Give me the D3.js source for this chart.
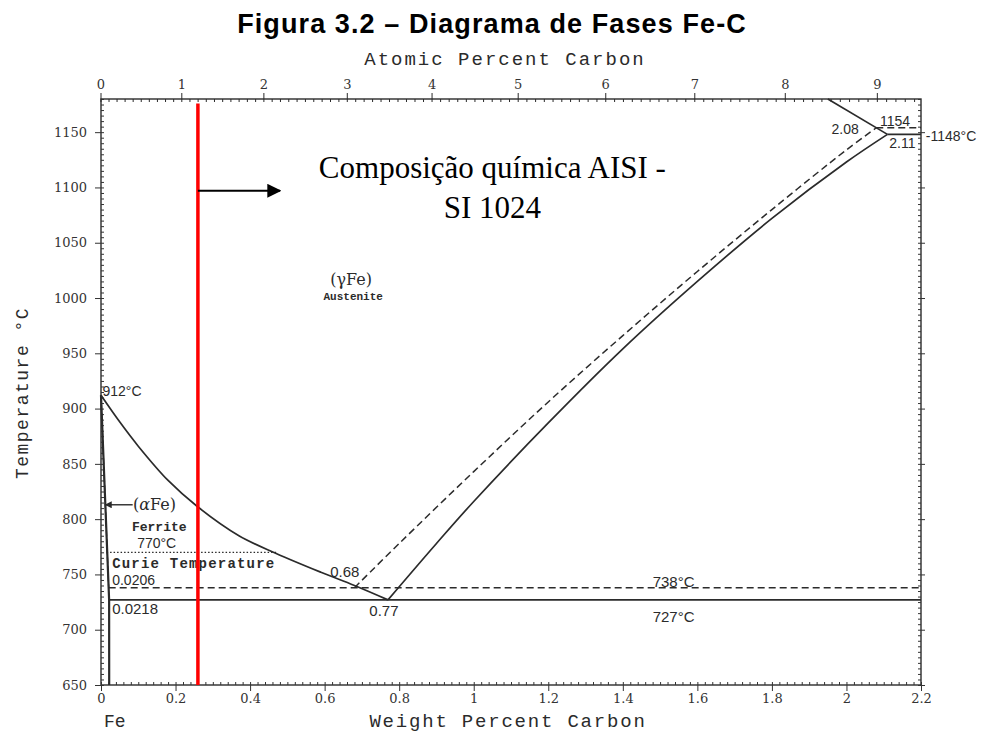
<!DOCTYPE html>
<html lang="pt">
<head>
<meta charset="utf-8">
<title>Diagrama de Fases Fe-C</title>
<script src="https://d3js.org/d3.v7.min.js"></script>
<style>
body { margin: 0; background: #fff; }
.tick text { font-family: "DejaVu Serif", serif; font-size: 13px; fill: #333; }
.tick line { stroke: #333; }
.lbl { font-family: "Liberation Sans", Arial, sans-serif; font-size: 14px; fill: #2b2b2b; }
.mono { font-family: "Liberation Mono", "DejaVu Sans Mono", monospace; fill: #2b2b2b; }
</style>
</head>
<body>
<script>
// axis ticks
var wtTicks = [0, 0.2, 0.4, 0.6, 0.8, 1, 1.2, 1.4, 1.6, 1.8, 2, 2.2];
var atTicks = [0, 1, 2, 3, 4, 5, 6, 7, 8, 9];
var tempTicks = [650, 700, 750, 800, 850, 900, 950, 1000, 1050, 1100, 1150];

// phase boundaries (wt% C, temperature °C)
var a3Wt = [0, 0.05, 0.1, 0.18, 0.26, 0.37, 0.47, 0.59, 0.68, 0.77];
var a3Temp = [912, 888, 866, 835, 811, 785, 769, 752, 740, 727];
var acmWt = [0.77, 0.9, 1.0, 1.2, 1.4, 1.6, 1.8, 2.0, 2.11];
var acmTemp = [727, 778, 816, 887, 954, 1015, 1072, 1123, 1148];
var acmGrWt = [0.68, 0.8, 1.0, 1.2, 1.4, 1.6, 1.8, 2.0, 2.08];
var acmGrTemp = [738, 778, 843, 906, 966, 1024, 1080, 1134, 1154];
var solidusWt = [1.95, 2.11];
var solidusTemp = [1180, 1148];
var alphaWt = [0, 0.0218, 0.022];
var alphaTemp = [912, 727, 650];
var alphaGrWt = [0, 0.0206];
var alphaGrTemp = [912, 738];

// horizontal isotherms: [wt start, wt end, temperature]
var solidIso = [[0.0218, 2.2, 727], [2.11, 2.2, 1148]];
var dashIso = [[0.0206, 2.2, 738], [2.08, 2.2, 1154]];
var curieIso = [0.015, 0.47, 770];

// steel composition marker
var steelWt = 0.26;
var steelTemp = [650, 1176];
var arrowWt = [0.26, 0.48];
var arrowTemp = 1097;

var labels = [
  {t: "912°C", wt: 0.004, temp: 916, cls: "lbl", size: 14, anchor: "start"},
  {t: "Ferrite", wt: 0.083, temp: 793, cls: "mono", size: 13, anchor: "start", bold: true},
  {t: "770°C", wt: 0.097, temp: 778, cls: "lbl", size: 14, anchor: "start"},
  {t: "Curie Temperature", wt: 0.03, temp: 760, cls: "mono", size: 14, anchor: "start", bold: true, ls: 1.2},
  {t: "0.0206", wt: 0.03, temp: 744.5, cls: "lbl", size: 14, anchor: "start"},
  {t: "0.0218", wt: 0.03, temp: 719, cls: "lbl", size: 15, anchor: "start"},
  {t: "0.68", wt: 0.615, temp: 752, cls: "lbl", size: 15, anchor: "start"},
  {t: "0.77", wt: 0.72, temp: 717, cls: "lbl", size: 15, anchor: "start"},
  {t: "738°C", wt: 1.48, temp: 743, cls: "lbl", size: 15, anchor: "start"},
  {t: "727°C", wt: 1.48, temp: 712, cls: "lbl", size: 15, anchor: "start"},
  {t: "Austenite", wt: 0.597, temp: 1002, cls: "mono", size: 11, anchor: "start", bold: true},
  {t: "1154", wt: 2.09, temp: 1160, cls: "lbl", size: 14, anchor: "start"},
  {t: "2.08", wt: 1.96, temp: 1153, cls: "lbl", size: 14, anchor: "start"},
  {t: "2.11", wt: 2.115, temp: 1140, cls: "lbl", size: 14, anchor: "start"},
  {t: "-1148°C", wt: 2.213, temp: 1146, cls: "lbl", size: 14, anchor: "start"}
];

var W = 987, H = 736;
var svg = d3.select("body").append("svg")
    .attr("width", W)
    .attr("height", H)
    .style("font-family", "Liberation Sans, Arial, sans-serif");

var x = d3.scaleLinear().domain([0, 2.2]).range([101, 921]);
var y = d3.scaleLinear().domain([650, 1180]).range([685, 99]);

// atomic percent -> weight percent carbon
function atToWt(a) {
    return 100 * a * 12.011 / (a * 12.011 + (100 - a) * 55.845);
}

var ink = "#2b2b2b";

// frame
svg.append("rect")
    .attr("x", x(0)).attr("y", y(1180))
    .attr("width", x(2.2) - x(0)).attr("height", y(650) - y(1180))
    .attr("fill", "none").attr("stroke", ink).attr("stroke-width", 1.4);

// bottom axis
var gx = svg.append("g").attr("transform", "translate(0," + y(650) + ")");
gx.call(d3.axisBottom(x).tickValues(wtTicks).tickFormat(d3.format("~g")).tickSize(6).tickPadding(3));
gx.select(".domain").remove();
var gxm = svg.append("g").attr("transform", "translate(0," + y(650) + ")");
gxm.call(d3.axisBottom(x).tickValues(d3.range(0, 2.2001, 0.02)).tickFormat("").tickSize(-3));
gxm.select(".domain").remove();

// left axis
var gy = svg.append("g").attr("transform", "translate(" + x(0) + ",0)");
gy.call(d3.axisLeft(y).tickValues(tempTicks).tickFormat(d3.format("d")).tickSize(6).tickPadding(8));
gy.select(".domain").remove();
var gym = svg.append("g").attr("transform", "translate(" + x(0) + ",0)");
gym.call(d3.axisLeft(y).tickValues(d3.range(650, 1181, 5)).tickFormat("").tickSize(-3));
gym.select(".domain").remove();

// right axis (ticks only)
var gr = svg.append("g").attr("transform", "translate(" + x(2.2) + ",0)");
gr.call(d3.axisRight(y).tickValues(d3.range(650, 1181, 5)).tickFormat("").tickSize(-3));
gr.select(".domain").remove();
var gr2 = svg.append("g").attr("transform", "translate(" + x(2.2) + ",0)");
gr2.call(d3.axisRight(y).tickValues(tempTicks).tickFormat("").tickSize(4));
gr2.select(".domain").remove();

// top axis, atomic percent carbon
var gTop = svg.append("g");
var atMinor = d3.range(0, 9.41, 0.1);
gTop.selectAll("line.minor").data(atMinor).enter().append("line")
    .attr("class", "minor")
    .attr("x1", function(d) { return x(atToWt(d)); })
    .attr("x2", function(d) { return x(atToWt(d)); })
    .attr("y1", y(1180)).attr("y2", y(1180) + 3)
    .attr("stroke", ink);
gTop.selectAll("line.major").data(atTicks).enter().append("line")
    .attr("class", "major")
    .attr("x1", function(d) { return x(atToWt(d)); })
    .attr("x2", function(d) { return x(atToWt(d)); })
    .attr("y1", y(1180) - 6).attr("y2", y(1180))
    .attr("stroke", ink);
gTop.selectAll("text").data(atTicks).enter().append("text")
    .attr("x", function(d) { return x(atToWt(d)); })
    .attr("y", y(1180) - 10)
    .attr("text-anchor", "middle")
    .style("font-family", "DejaVu Serif, serif").style("font-size", "13px").attr("fill", "#333")
    .text(function(d) { return d; });

// phase lines
var line = d3.line()
    .x(function(d) { return x(d[0]); })
    .y(function(d) { return y(d[1]); });
var smooth = d3.line()
    .x(function(d) { return x(d[0]); })
    .y(function(d) { return y(d[1]); })
    .curve(d3.curveCatmullRom.alpha(0.5));

function pairs(a, b) { return a.map(function(v, i) { return [v, b[i]]; }); }

svg.append("path").datum(pairs(a3Wt, a3Temp)).attr("d", smooth)
    .attr("fill", "none").attr("stroke", ink).attr("stroke-width", 1.7);
svg.append("path").datum(pairs(acmWt, acmTemp)).attr("d", smooth)
    .attr("fill", "none").attr("stroke", ink).attr("stroke-width", 1.7);
svg.append("path").datum(pairs(acmGrWt, acmGrTemp)).attr("d", smooth)
    .attr("fill", "none").attr("stroke", ink).attr("stroke-width", 1.5).attr("stroke-dasharray", "7,4");
svg.append("path").datum(pairs(solidusWt, solidusTemp)).attr("d", line)
    .attr("fill", "none").attr("stroke", ink).attr("stroke-width", 1.7);
svg.append("path").datum(pairs(alphaWt, alphaTemp)).attr("d", line)
    .attr("fill", "none").attr("stroke", ink).attr("stroke-width", 2.2);
svg.append("path").datum(pairs(alphaGrWt, alphaGrTemp)).attr("d", line)
    .attr("fill", "none").attr("stroke", ink).attr("stroke-width", 1.3).attr("stroke-dasharray", "6,3");

svg.selectAll("line.iso").data(solidIso).enter().append("line")
    .attr("class", "iso")
    .attr("x1", function(d) { return x(d[0]); }).attr("x2", function(d) { return x(d[1]); })
    .attr("y1", function(d) { return y(d[2]); }).attr("y2", function(d) { return y(d[2]); })
    .attr("stroke", ink).attr("stroke-width", 1.6);
svg.selectAll("line.isod").data(dashIso).enter().append("line")
    .attr("class", "isod")
    .attr("x1", function(d) { return x(d[0]); }).attr("x2", function(d) { return x(d[1]); })
    .attr("y1", function(d) { return y(d[2]); }).attr("y2", function(d) { return y(d[2]); })
    .attr("stroke", ink).attr("stroke-width", 1.5).attr("stroke-dasharray", "7,4");
svg.append("line")
    .attr("x1", x(curieIso[0])).attr("x2", x(curieIso[1]))
    .attr("y1", y(curieIso[2])).attr("y2", y(curieIso[2]))
    .attr("stroke", ink).attr("stroke-width", 1.3).attr("stroke-dasharray", "1.5,2");

// arrow markers
var defs = svg.append("defs");
defs.append("marker").attr("id", "ah").attr("viewBox", "0 0 10 10")
    .attr("refX", 9).attr("refY", 5).attr("markerWidth", 7).attr("markerHeight", 7)
    .attr("markerUnits", "strokeWidth").attr("orient", "auto")
    .append("path").attr("d", "M0,0 L10,5 L0,10 z").attr("fill", "#000");
defs.append("marker").attr("id", "ah2").attr("viewBox", "0 0 10 10")
    .attr("refX", 9).attr("refY", 5).attr("markerWidth", 6).attr("markerHeight", 5)
    .attr("markerUnits", "strokeWidth").attr("orient", "auto")
    .append("path").attr("d", "M0,0 L10,5 L0,10 z").attr("fill", ink);

// (αFe) with arrow
svg.append("line")
    .attr("x1", x(0.085)).attr("x2", x(0.012))
    .attr("y1", y(813)).attr("y2", y(813))
    .attr("stroke", ink).attr("stroke-width", 1.4).attr("marker-end", "url(#ah2)");
var af = svg.append("text")
    .attr("x", x(0.086)).attr("y", y(813)).attr("dy", "0.35em")
    .style("font-family", "DejaVu Serif, serif").style("font-size", "16px").attr("fill", ink);
af.append("tspan").text("(");
af.append("tspan").style("font-style", "italic").text("α");
af.append("tspan").text("Fe)");

var gf = svg.append("text")
    .attr("x", x(0.671)).attr("y", y(1017)).attr("dy", "0.35em")
    .attr("text-anchor", "middle")
    .style("font-family", "DejaVu Serif, serif").style("font-size", "16px").attr("fill", ink);
gf.append("tspan").text("(");
gf.append("tspan").text("γ");
gf.append("tspan").text("Fe)");

svg.selectAll("text.ann").data(labels).enter().append("text")
    .attr("class", function(d) { return "ann " + d.cls; })
    .attr("x", function(d) { return x(d.wt); })
    .attr("y", function(d) { return y(d.temp); })
    .attr("dy", "0.35em")
    .attr("text-anchor", function(d) { return d.anchor; })
    .style("font-size", function(d) { return d.size + "px"; })
    .style("font-weight", function(d) { return d.bold ? "bold" : "normal"; })
    .style("letter-spacing", function(d) { return (d.ls || 0) + "px"; })
    .text(function(d) { return d.t; });

// red composition line and arrow
svg.append("line")
    .attr("x1", x(steelWt)).attr("x2", x(steelWt))
    .attr("y1", y(steelTemp[1])).attr("y2", y(steelTemp[0]))
    .attr("stroke", "#ff0000").attr("stroke-width", 3.5);
svg.append("line")
    .attr("x1", x(arrowWt[0])).attr("x2", x(arrowWt[1]))
    .attr("y1", y(arrowTemp)).attr("y2", y(arrowTemp))
    .attr("stroke", "#000").attr("stroke-width", 2).attr("marker-end", "url(#ah)");

var comp = svg.append("text")
    .attr("text-anchor", "middle")
    .style("font-family", "Liberation Serif, Times New Roman, serif")
    .style("font-size", "31px").attr("fill", "#000");
comp.append("tspan").attr("x", x(1.05)).attr("y", 178).text("Composição química AISI -");
comp.append("tspan").attr("x", x(1.05)).attr("y", 218).text("SI 1024");

// titles
svg.append("text").attr("x", 492).attr("y", 33).attr("text-anchor", "middle")
    .style("font-family", "Liberation Sans, Arial, sans-serif").style("font-weight", "bold")
    .style("font-size", "27px").style("letter-spacing", "1.1px").attr("fill", "#000")
    .text("Figura 3.2 – Diagrama de Fases Fe-C");
svg.append("text").attr("class", "mono").attr("x", 505).attr("y", 58).attr("dy", "0.35em")
    .attr("text-anchor", "middle").style("font-size", "19px").style("letter-spacing", "2px")
    .attr("fill", "#444").text("Atomic Percent Carbon");
svg.append("text").attr("class", "mono").attr("x", 508).attr("y", 720).attr("dy", "0.35em")
    .attr("text-anchor", "middle").style("font-size", "19px").style("letter-spacing", "1.8px")
    .attr("fill", "#444").text("Weight Percent Carbon");
svg.append("text").attr("class", "mono").attr("x", 104).attr("y", 721).attr("dy", "0.35em")
    .style("font-size", "18px").attr("fill", "#444").text("Fe");
svg.append("text").attr("class", "mono")
    .attr("transform", "translate(22,393) rotate(-90)")
    .attr("dy", "0.35em").attr("text-anchor", "middle")
    .style("font-size", "18px").style("letter-spacing", "1.5px")
    .attr("fill", "#444").text("Temperature °C");
</script>
</body>
</html>
